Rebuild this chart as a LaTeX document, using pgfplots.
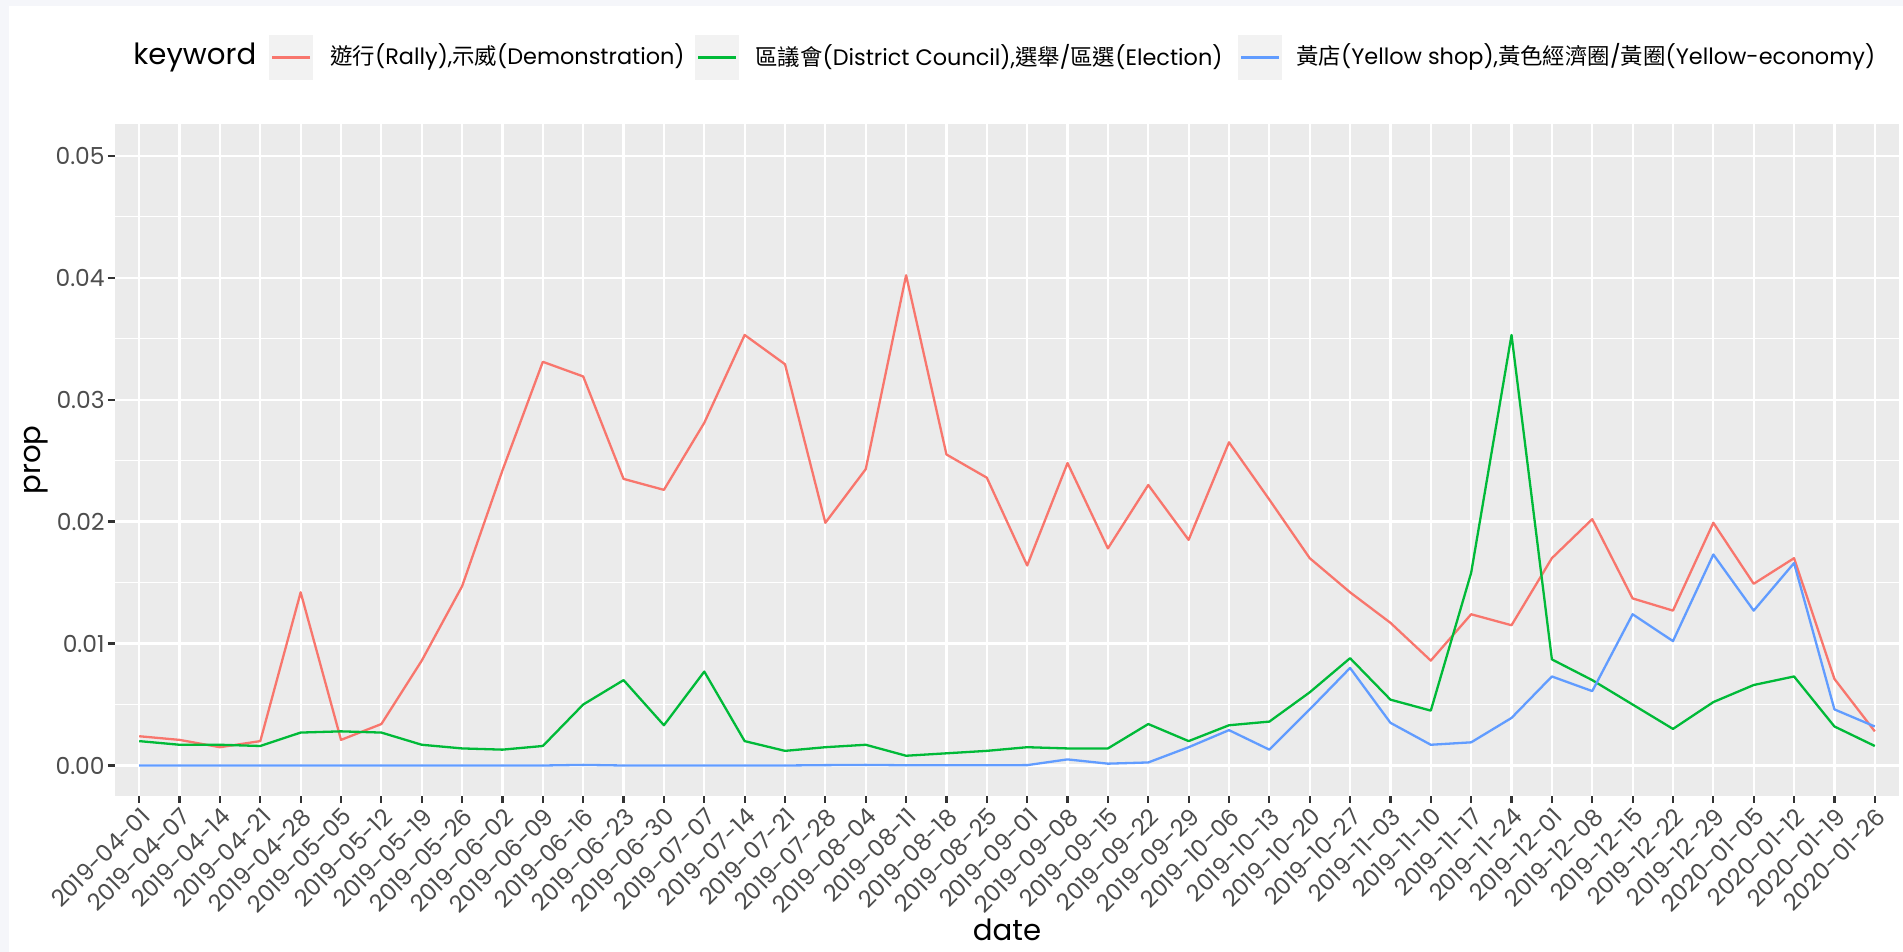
\documentclass[border=0pt]{standalone}
\usepackage{pgfplots}
\pgfplotsset{compat=1.18}
\usepackage{pgfplotstable}
\usepackage{fontspec}
\setmainfont{Poppins}
\newfontfamily\cjk{Noto Sans CJK TC}

\definecolor{ggred}{HTML}{F8766D}
\definecolor{gggreen}{HTML}{00BA38}
\definecolor{ggblue}{HTML}{619CFF}
\definecolor{ggpanel}{HTML}{EBEBEB}
\definecolor{ggkey}{HTML}{F2F2F2}
\definecolor{ggtext}{HTML}{4D4D4D}
\definecolor{ggtick}{HTML}{333333}
\definecolor{ggframe}{HTML}{F5F6FA}

\pgfplotstableread{
idx red green blue
0 0.0024 0.0020 0
1 0.0021 0.0017 0
2 0.0015 0.0017 0
3 0.0020 0.0016 0
4 0.0142 0.0027 0
5 0.0021 0.0028 0
6 0.0034 0.0027 0
7 0.0086 0.0017 0
8 0.0147 0.0014 0
9 0.0242 0.0013 0
10 0.0331 0.0016 0
11 0.0319 0.0050 0.00005
12 0.0235 0.0070 0
13 0.0226 0.0033 0
14 0.0281 0.0077 0
15 0.0353 0.0020 0
16 0.0329 0.0012 0
17 0.0199 0.0015 0.00003
18 0.0243 0.0017 0.00005
19 0.0402 0.0008 0.00002
20 0.0255 0.0010 0.00002
21 0.0236 0.0012 0.00002
22 0.0164 0.0015 0.00003
23 0.0248 0.0014 0.0005
24 0.0178 0.0014 0.00015
25 0.0230 0.0034 0.00025
26 0.0185 0.0020 0.0015
27 0.0265 0.0033 0.0029
28 0.0218 0.0036 0.0013
29 0.0170 0.0060 0.0046
30 0.0142 0.0088 0.0080
31 0.0117 0.0054 0.0035
32 0.0086 0.0045 0.0017
33 0.0124 0.0158 0.0019
34 0.0115 0.0353 0.0039
35 0.0170 0.0087 0.0073
36 0.0202 0.0070 0.0061
37 0.0137 0.0050 0.0124
38 0.0127 0.0030 0.0102
39 0.0199 0.0052 0.0173
40 0.0149 0.0066 0.0127
41 0.0170 0.0073 0.0166
42 0.0071 0.0032 0.0046
43 0.0028 0.0016 0.0032
}\datatable

\begin{document}
\begin{tikzpicture}
\begin{scope}[x=0.5pt,y=0.5pt]
\useasboundingbox (0,0) rectangle (1903,952);
\fill[ggframe] (0,0) rectangle (1903,952);
\fill[white] (9,0) rectangle (1903,946);
\end{scope}
\begin{axis}[
  at={(57.5pt,78pt)}, anchor=south west,
  scale only axis, width=892pt, height=336pt,
  xmin=-0.6, xmax=43.6, ymin=-0.0025, ymax=0.0526,
  xtick={0,...,43},
  xticklabels={2019-04-01,2019-04-07,2019-04-14,2019-04-21,2019-04-28,2019-05-05,2019-05-12,2019-05-19,2019-05-26,2019-06-02,2019-06-09,2019-06-16,2019-06-23,2019-06-30,2019-07-07,2019-07-14,2019-07-21,2019-07-28,2019-08-04,2019-08-11,2019-08-18,2019-08-25,2019-09-01,2019-09-08,2019-09-15,2019-09-22,2019-09-29,2019-10-06,2019-10-13,2019-10-20,2019-10-27,2019-11-03,2019-11-10,2019-11-17,2019-11-24,2019-12-01,2019-12-08,2019-12-15,2019-12-22,2019-12-29,2020-01-05,2020-01-12,2020-01-19,2020-01-26},
  ytick={0,0.01,0.02,0.03,0.04,0.05},
  yticklabels={0.00,0.01,0.02,0.03,0.04,0.05},
  minor ytick={0.005,0.015,0.025,0.035,0.045},
  scaled y ticks=false,
  /pgf/number format/assume math mode=true,
  xmajorgrids, ymajorgrids, yminorgrids,
  major grid style={white, line width=1.1pt},
  minor grid style={white, line width=0.55pt},
  axis background/.style={fill=ggpanel},
  axis line style={draw=none},
  tick align=outside, tick pos=left,
  major tick length=3.5pt, minor tick length=0pt,
  every tick/.style={ggtick, line width=1.1pt},
  tick label style={ggtext, font=\fontsize{11.7}{14}\selectfont},
  xticklabel style={rotate=45, anchor=north east, inner sep=1pt},
  yticklabel style={anchor=east, inner sep=1.5pt},
  xlabel={date}, ylabel={prop},
  x label style={at={(rel axis cs:0.5,0)}, anchor=center, yshift=-67pt, font=\fontsize{14.6}{17}\selectfont},
  y label style={at={(rel axis cs:0,0.5)}, anchor=center, yshift=39.5pt, font=\fontsize{14.6}{17}\selectfont},
  clip=true,
]
\addplot[ggred, line width=1.15pt, mark=none, line join=round] table[x=idx,y=red]{\datatable};
\addplot[gggreen, line width=1.15pt, mark=none, line join=round] table[x=idx,y=green]{\datatable};
\addplot[ggblue, line width=1.15pt, mark=none, line join=round] table[x=idx,y=blue]{\datatable};
\end{axis}
\begin{scope}[x=0.5pt,y=0.5pt]
\node[anchor=west, inner sep=0, font=\fontsize{14.6}{17}\selectfont] at (133,895) {keyword};
\fill[ggkey] (269,872) rectangle (313,917);
\draw[ggred, line width=1.15pt] (272,894.5) -- (310,894.5);
\node[anchor=west, inner sep=0, font=\fontsize{11.2}{14}\selectfont] at (330,895) {{\cjk 遊行}(Rally),{\cjk 示威}(Demonstration)};
\fill[ggkey] (695,872) rectangle (739,917);
\draw[gggreen, line width=1.15pt] (698,894.5) -- (736,894.5);
\node[anchor=west, inner sep=0, font=\fontsize{11.2}{14}\selectfont] at (755,895) {{\cjk 區議會}(District Council),{\cjk 選舉}/{\cjk 區選}(Election)};
\fill[ggkey] (1238,872) rectangle (1282,917);
\draw[ggblue, line width=1.15pt] (1241,894.5) -- (1279,894.5);
\node[anchor=west, inner sep=0, font=\fontsize{11.2}{14}\selectfont] at (1296,895) {{\cjk 黃店}(Yellow shop),{\cjk 黃色經濟圈}/{\cjk 黃圈}(Yellow-economy)};
\end{scope}
\end{tikzpicture}
\end{document}
